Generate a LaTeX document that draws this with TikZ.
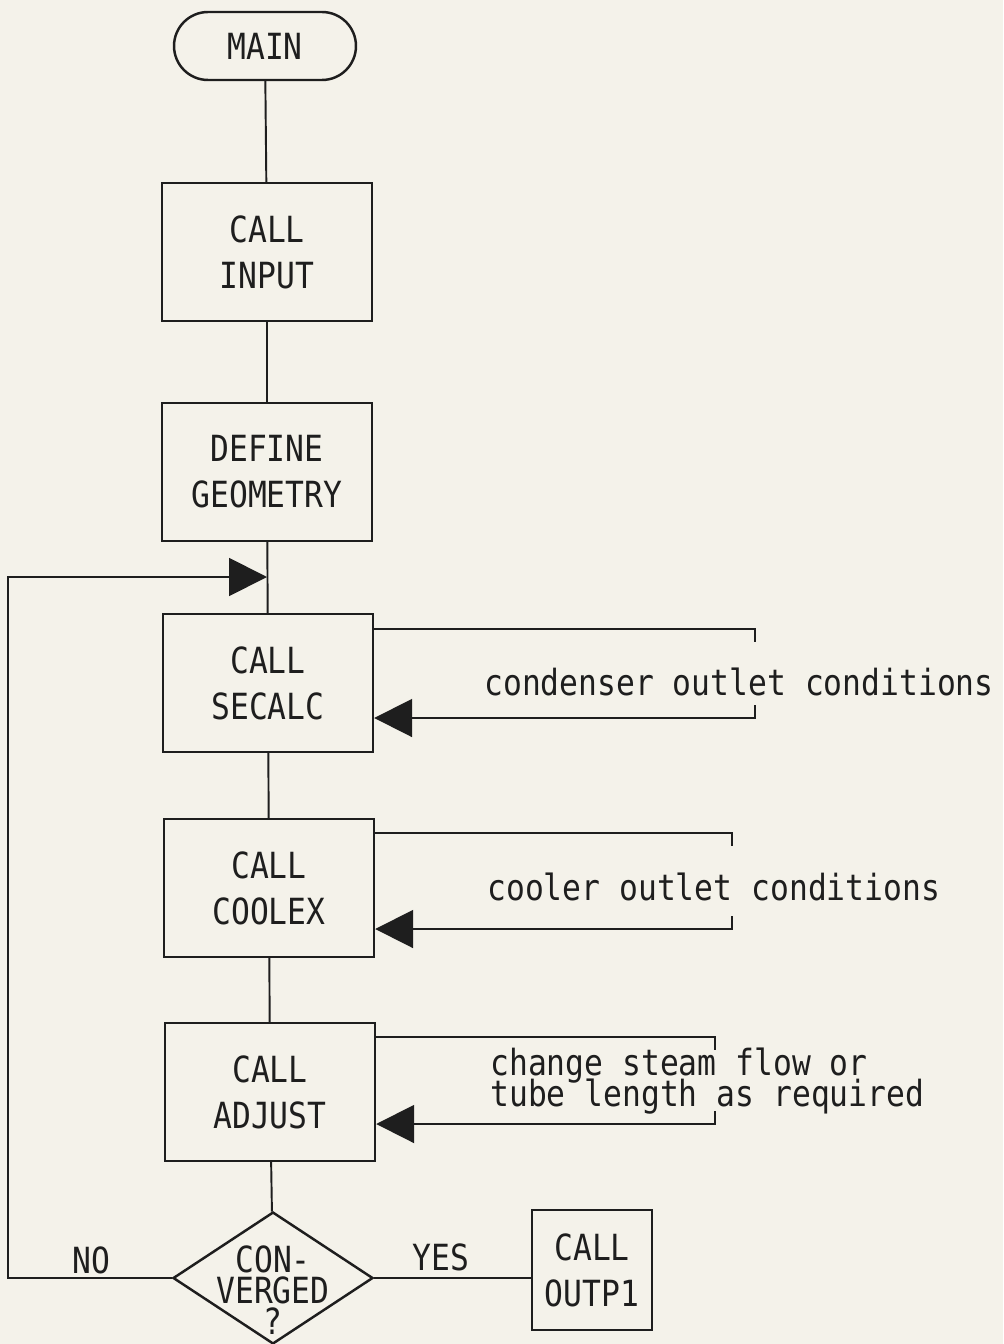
\documentclass[tikz,border=0pt]{standalone}
\usepackage{fontspec}
\usetikzlibrary{arrows.meta,shapes.geometric}
\newfontfamily\plotfont[FakeStretch=0.87]{DejaVu Sans Mono}
\newcommand\tightlines{\lineskiplimit=-50pt\relax}
\definecolor{PaperCream}{HTML}{F4F2EA}
\definecolor{PenBlack}{HTML}{1E1E1E}

\begin{document}
\begin{tikzpicture}[
    x=0.02cm, y=-0.02cm,
    txt/.style={font=\plotfont\fontsize{20.5}{26.1}\selectfont,text=PenBlack,inner sep=0pt},
    tight/.style={font=\plotfont\fontsize{20.5}{17.6}\selectfont\tightlines},
    proc/.style={txt,draw=PenBlack,line width=1.4pt,align=center,minimum width=4.2cm,minimum height=2.76cm},
    term/.style={txt,draw=PenBlack,line width=1.4pt,minimum width=3.64cm,minimum height=1.36cm,rounded corners=0.68cm},
    decide/.style={diamond,draw=PenBlack,line width=1.4pt,minimum width=4.0cm,minimum height=2.64cm,inner sep=0pt},
    note/.style={txt,anchor=west,align=left},
    link/.style={draw=PenBlack,line width=1.1pt},
    arrow/.style={link,-{Triangle[length=0.76cm,width=0.76cm]}}
  ]
    \fill[PaperCream] (0,0) rectangle (1003,1344);
    \useasboundingbox (0,0) rectangle (1003,1344);

    \node[term] (main) at (265,46) {MAIN};
    \node[proc] (input) at (267,252) {CALL\\INPUT};
    \node[proc] (geom) at (267,472) {DEFINE\\GEOMETRY};
    \node[proc] (secalc) at (268,683) {CALL\\SECALC};
    \node[proc] (coolex) at (269,888) {CALL\\COOLEX};
    \node[proc] (adjust) at (270,1092) {CALL\\ADJUST};
    \node[decide] (conv) at (273,1278) {};
    \node[txt,tight,align=center] (convtext) at (273,1290) {CON-\\VERGED\\?};
    \node[proc,minimum width=2.4cm,minimum height=2.4cm] (outp) at (592,1270) {CALL\\OUTP1};

    \foreach \a/\b in {main/input,input/geom,geom/secalc,secalc/coolex,coolex/adjust,adjust/conv}
      \draw[link] (\a) -- (\b);

    % loop back when not converged
    \coordinate (back) at (8,577);
    \coordinate (join) at (267,577);
    \draw[arrow] (conv.west) -| (back) -- (join);
    \node[txt] (no) at (91,1260) {NO};
    \draw[link] (conv.east) -- (outp.west |- conv.east);
    \node[txt] (yes) at (441,1257) {YES};

    % side returns of the subroutines
    \foreach \n/\top/\bot/\xr in {secalc/629/718/755,coolex/833/929/732,adjust/1037/1124/715} {
      \draw[link] (\n.east |- 0,\top) -- (\xr,\top) -- (\xr,\top+13);
      \draw[arrow] (\xr,\bot-13) -- (\xr,\bot) -- (\n.east |- 0,\bot);
    }
    \node[note] (secnote) at (484,682) {condenser outlet conditions};
    \node[note] (coolnote) at (487,887) {cooler outlet conditions};
    \node[note,tight] (adjnote) at (490,1081) {change steam flow or\\tube length as required};
  \end{tikzpicture}
\end{document}
